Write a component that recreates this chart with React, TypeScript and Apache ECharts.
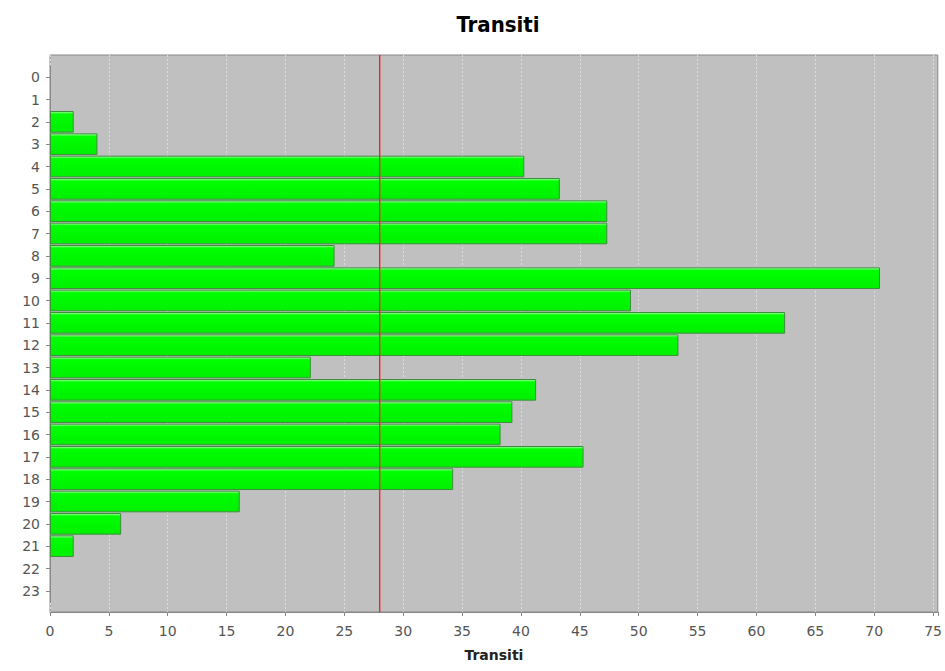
import React, { useEffect, useRef } from "react";
import * as echarts from "echarts";

const hours = ["0","1","2","3","4","5","6","7","8","9","10","11","12","13","14","15","16","17","18","19","20","21","22","23"];
const transiti = [0,0,2,4,40,43,47,47,24,70,49,62,53,22,41,39,38,45,34,16,6,2,0,0];
const mediaValue = 28;
const xTicks = { min: 0, max: 75.4, interval: 5 };
const titleText = "Transiti";
const axisName = "Transiti";

export default function App() {
  const ref = useRef<HTMLDivElement>(null);
  useEffect(() => {
    if (!ref.current) return;
    const chart = echarts.init(ref.current, null, { renderer: "svg" });
    const font = "DejaVu Sans";
    const plotL = 50, plotW = 894, plotT = 55, plotH = 557;
    const red = "#f02828";
    chart.setOption({
      animation: false,
      backgroundColor: "#ffffff",
      title: {
        text: titleText,
        left: plotL + plotW / 2 - 4,
        textAlign: "center",
        top: 8,
        textStyle: { fontFamily: "Liberation Sans Narrow, DejaVu Sans Condensed, sans-serif", fontWeight: "bold", fontSize: 22, color: "#000" },
      },
      grid: [
        { left: plotL, top: plotT, width: plotW, height: plotH, show: true, backgroundColor: "#c0c0c0", borderColor: "#888", borderWidth: 1 },
        { left: plotL, top: 66, width: plotW, height: 536 },
      ],
      xAxis: [
        {
          gridIndex: 0, type: "value", min: xTicks.min, max: xTicks.max, interval: xTicks.interval,
          offset: 4,
          axisLine: { show: true, lineStyle: { color: "#888", width: 1 } },
          axisTick: { show: true, length: 4, lineStyle: { color: "#888" } },
          axisLabel: {
            color: "#555", fontFamily: font, fontSize: 14, margin: 8,
            formatter: (v: number) => (v % 5 === 0 ? String(v) : ""),
          },
          splitLine: { show: true, lineStyle: { color: "#dcdcdc", width: 1, type: [2, 2] } },
          name: axisName, nameLocation: "middle", nameGap: 32,
          nameTextStyle: { fontFamily: font, fontWeight: "bold", fontSize: 14, color: "#222" },
        },
        {
          gridIndex: 1, type: "value", min: xTicks.min, max: xTicks.max, interval: xTicks.interval,
          show: false, splitLine: { show: false },
        },
      ],
      yAxis: [
        { gridIndex: 0, type: "value", min: 0, max: 1, show: false, splitLine: { show: false } },
        {
          gridIndex: 1, type: "category", data: hours, inverse: true,
          offset: 4,
          axisLine: { show: true, lineStyle: { color: "#888", width: 1 } },
          axisTick: { show: true, alignWithLabel: true, length: 4, lineStyle: { color: "#888" } },
          axisLabel: { color: "#555", fontFamily: font, fontSize: 14, margin: 6 },
          splitLine: { show: false },
        },
      ],
      series: [
        {
          type: "bar",
          xAxisIndex: 1,
          yAxisIndex: 1,
          data: transiti.map((v) => (v === 0 ? null : v)),
          barCategoryGap: "3%",
          itemStyle: {
            color: new echarts.graphic.LinearGradient(0, 0, 0, 1, [
              { offset: 0, color: "#b4ffb4" },
              { offset: 0.12, color: "#00ff00" },
              { offset: 1, color: "#00f000" },
            ]),
            borderColor: "#3e8e3e",
            borderWidth: 1,
          },
          z: 2,
        },
        {
          type: "line",
          xAxisIndex: 0,
          yAxisIndex: 0,
          data: [[mediaValue, 0], [mediaValue, 1]],
          z: 5,
          symbol: "none",
          silent: true,
          itemStyle: { color: red },
          lineStyle: { color: red, width: 1.4, type: "solid" },
        },
      ],
    });
    return () => chart.dispose();
  }, []);
  return <div ref={ref} style={{ position: "fixed", left: 0, top: 0, width: 945, height: 671 }} />;
}
